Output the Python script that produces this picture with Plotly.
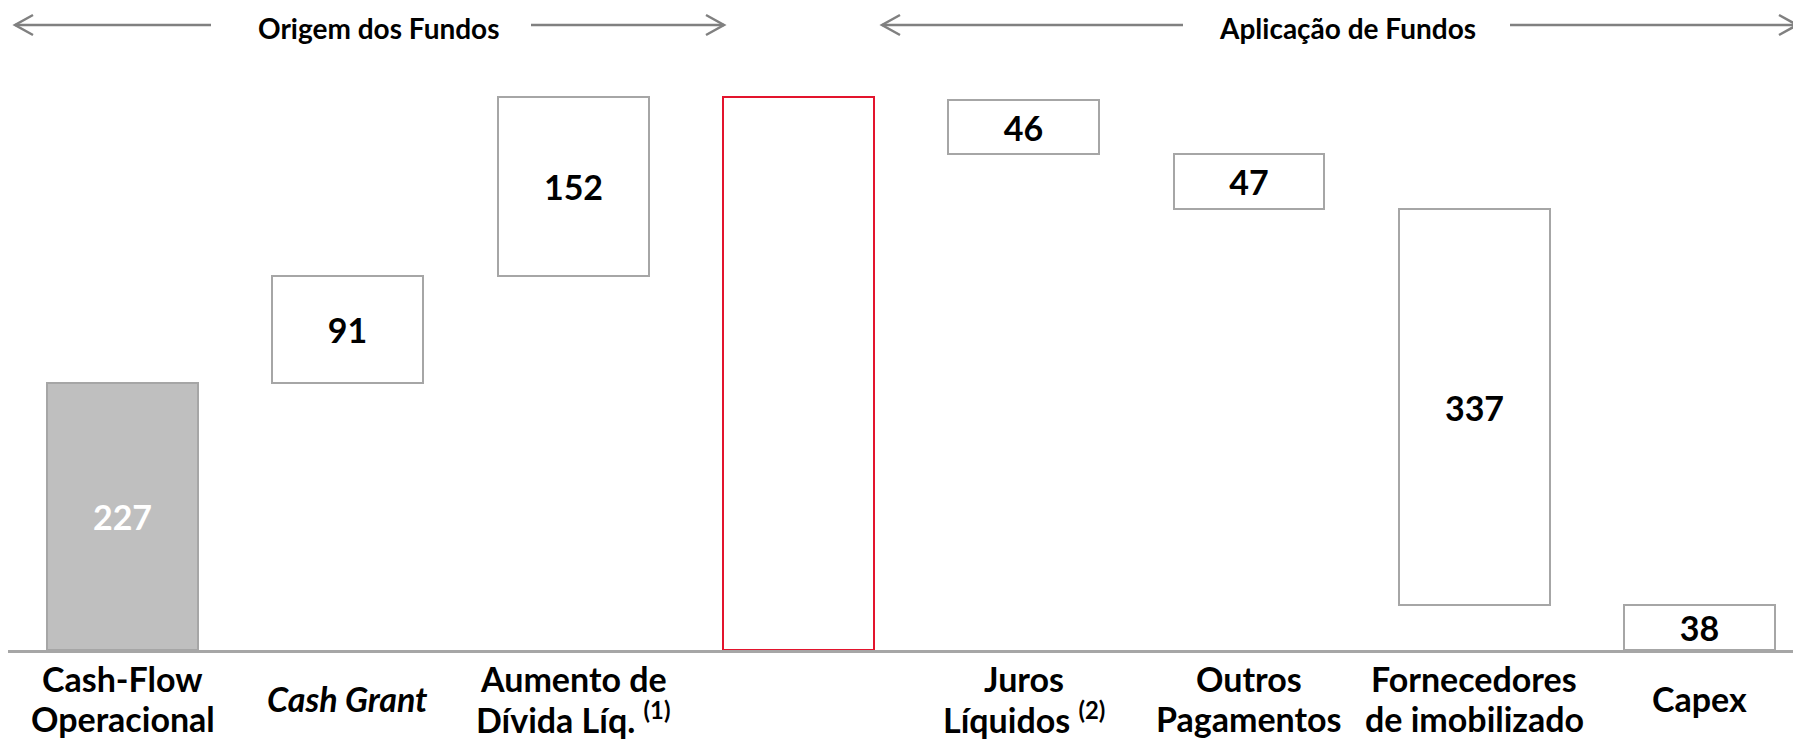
import plotly.graph_objects as go

# ---- data ----
origin_labels = ["Cash-Flow<br>Operacional", "<i>Cash Grant</i>", "Aumento de<br>Dívida Líq. <sup>(1)</sup>"]
origin_values = [227, 91, 152]
total_label = ""
application_labels = ["Juros<br>Líquidos <sup>(2)</sup>", "Outros<br>Pagamentos",
                      "Fornecedores<br>de imobilizado", "Capex"]
application_values = [46, 47, 337, 38]
header_labels = ["Origem dos Fundos", "Aplicação de Fundos"]

# ---- waterfall geometry from data ----
total = sum(origin_values)
origin_bases = []
acc = 0
for v in origin_values:
    origin_bases.append(acc)
    acc += v
app_bases = [0] * len(application_values)
acc = 0
for i in range(len(application_values) - 1, -1, -1):
    app_bases[i] = acc
    acc += application_values[i]

labels = origin_labels + [total_label] + application_labels
heights = origin_values + [total] + application_values
bases = origin_bases + [0] + app_bases
texts = [str(v) for v in origin_values] + [""] + [str(v) for v in application_values]
xs = list(range(len(labels)))

GRAY_FILL = "#bfbfbf"
GRAY_LINE = "#a6a6a6"
RED = "#e3142d"
fills = [GRAY_FILL] + ["white"] * (len(labels) - 1)
lines = [GRAY_LINE] * 3 + [RED] + [GRAY_LINE] * 4
text_colors = ["white"] + ["black"] * (len(labels) - 1)

FONT = "Lato, Noto Sans, sans-serif"

# page body has an 8px margin: work in reference pixels, shift by OFF
OFF = 8
W, H = 1801 - OFF, 740 - OFF
ML, MR, MT = 0, 0, 0
BASE_Y = 650  # reference pixel of the baseline
MB = 740 - BASE_Y
pw, ph = W - ML - MR, H - MT - MB
px_per_unit_y = 1.176
px_per_cat = 225.3
x0_px = 122.5 - OFF  # figure-pixel centre of first category
xr = [-(x0_px - ML) / px_per_cat, (W - MR - x0_px) / px_per_cat]
yr = [0, ph / px_per_unit_y]

def px(xp):  # reference pixel -> paper
    return (xp - OFF - ML) / pw

def py(yp):
    return (MT + ph - (yp - OFF)) / ph

fig = go.Figure()
fig.add_trace(go.Bar(
    x=xs, y=heights, base=bases, width=0.67,
    marker=dict(color=fills, line=dict(color=lines, width=2)),
    text=texts, textposition="inside", insidetextanchor="middle",
    constraintext="none", textangle=0,
    textfont=dict(family=FONT, size=34, color=text_colors, weight="bold"),
    hoverinfo="skip",
))

annotations = []
LINE1_Y, LINE2_Y = 678, 718
for x, lab in zip(xs, labels):
    if not lab:
        continue
    parts = lab.split("<br>")
    if len(parts) == 1:
        ys = [(LINE1_Y + LINE2_Y) / 2]
    else:
        ys = [LINE1_Y, LINE2_Y]
    for part, yy in zip(parts, ys):
        annotations.append(dict(
            x=x, xref="x", y=py(yy), yref="paper", text=part, showarrow=False,
            xanchor="center", yanchor="middle", align="center",
            font=dict(family=FONT, size=34, color="black", weight="bold")))

# headers with double arrows
header_specs = [
    (header_labels[0], 379, 15, 211, 531, 724),
    (header_labels[1], 1347, 882, 1183, 1510, 1797),
]
shapes = []
ARROW_Y = 25
ln = dict(color="#808080", width=2.5)
for text, cx, l0, l1, r0, r1 in header_specs:
    annotations.append(dict(
        x=px(cx), xref="paper", y=py(28), yref="paper", text=text, showarrow=False,
        xanchor="center", yanchor="middle",
        font=dict(family=FONT, size=28, color="black", weight="bold")))
    shapes.append(dict(type="line", xref="paper", yref="paper",
                       x0=px(l0), x1=px(l1), y0=py(ARROW_Y), y1=py(ARROW_Y), line=ln))
    shapes.append(dict(type="line", xref="paper", yref="paper",
                       x0=px(r0), x1=px(r1), y0=py(ARROW_Y), y1=py(ARROW_Y), line=ln))
    shapes.append(dict(type="path", xref="paper", yref="paper",
                       path=f"M {px(l0+18)},{py(ARROW_Y-10)} L {px(l0)},{py(ARROW_Y)} L {px(l0+18)},{py(ARROW_Y+10)}",
                       line=ln))
    shapes.append(dict(type="path", xref="paper", yref="paper",
                       path=f"M {px(r1-18)},{py(ARROW_Y-10)} L {px(r1)},{py(ARROW_Y)} L {px(r1-18)},{py(ARROW_Y+10)}",
                       line=ln))

fig.update_layout(
    width=W, height=H,
    margin=dict(l=ML, r=MR, t=MT, b=MB),
    plot_bgcolor="white", paper_bgcolor="white",
    showlegend=False, bargap=0,
    xaxis=dict(range=xr, showgrid=False, zeroline=False, showticklabels=False,
               showline=True, linecolor="#a6a6a6", linewidth=3, ticks=""),
    yaxis=dict(range=yr, showgrid=False, zeroline=False, showticklabels=False,
               showline=False, ticks=""),
    annotations=annotations, shapes=shapes,
)

fig.write_html("out.html")
